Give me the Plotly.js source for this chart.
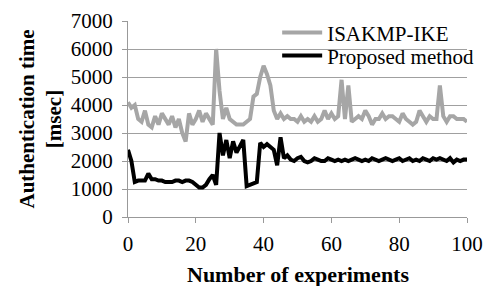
<!DOCTYPE html>
<html>
<head>
<meta charset="utf-8">
<script src="https://cdn.plot.ly/plotly-3.0.1.min.js"></script>
<style>html,body{margin:0;padding:0;background:#fff;}#chart{width:491px;height:286px;}</style>
</head>
<body>
<div id="chart"></div>
<script>
const experiments = Array.from({length: 101}, (_, i) => i);
const isakmpIke = [4100,3900,4000,3500,3400,3800,3300,3200,3600,3300,
  3700,3500,3300,3600,3200,3500,3000,2700,3700,3300,
  3500,3800,3400,3700,3500,3300,6000,4500,3500,3900,
  3500,3400,3300,3300,3300,3400,3500,4300,4400,5000,
  5400,5100,4700,3800,3500,3700,3500,3600,3500,3500,
  3400,3600,3400,3500,3400,3600,3400,3500,3800,3500,
  3700,3500,3600,4900,3500,4700,3400,3500,3600,3500,
  3800,3600,3300,3500,3500,3700,3500,3600,3600,3500,
  3400,3700,3500,3400,3300,3400,3800,3600,3400,3600,
  3500,3500,4700,3600,3400,3600,3600,3500,3500,3500,3400];
const proposed = [2400,2000,1250,1300,1300,1300,1550,1350,1350,1300,
  1300,1250,1250,1250,1300,1300,1250,1300,1300,1250,
  1150,1050,1050,1150,1350,1500,1150,3000,2200,2750,
  2100,2700,2300,2500,2750,1100,1150,1200,1250,2650,
  2500,2600,2500,2400,1850,2850,2100,2200,2050,2000,
  2100,2150,2000,1950,2000,2100,2050,2000,2000,2100,
  2050,2000,2050,2000,2050,2000,2050,2100,2050,2000,
  2050,2000,2100,2050,2000,2050,2100,2050,2000,2050,
  2100,2000,2050,2100,2000,2050,2000,2100,2050,2000,
  2100,2050,2100,2050,2000,2100,1950,2050,2000,2050,2050];
const seriesNames = ['ISAKMP-IKE', 'Proposed method'];
const xTicks = [0, 20, 40, 60, 80, 100];
const yTicks = [0, 1000, 2000, 3000, 4000, 5000, 6000, 7000];
const xTitle = 'Number of experiments';
const yTitle = 'Authentication time<br>[msec]';

const font = 'Liberation Serif, Times New Roman, serif';
const legendFont = {family: font, size: 21, color: '#000'};
const data = [
  {x: experiments, y: isakmpIke, name: seriesNames[0], type: 'scatter', mode: 'lines',
   line: {color: '#a6a6a6', width: 4}, legend: 'legend'},
  {x: experiments, y: proposed, name: seriesNames[1], type: 'scatter', mode: 'lines',
   line: {color: '#000000', width: 4}, legend: 'legend2'}
];
const layout = {
  width: 491, height: 286,
  margin: {l: 128, r: 20, t: 20, b: 69},
  paper_bgcolor: '#fff', plot_bgcolor: '#fff',
  font: {family: font, size: 21, color: '#000'},
  showlegend: true,
  legend: {x: 0.44, y: 0.939, xanchor: 'left', yanchor: 'middle', bgcolor: 'rgba(0,0,0,0)',
    font: legendFont, itemwidth: 40},
  legend2: {x: 0.44, y: 0.822, xanchor: 'left', yanchor: 'middle', bgcolor: 'rgba(0,0,0,0)',
    font: legendFont, itemwidth: 40},
  xaxis: {range: [0, 100], tickvals: xTicks, ticktext: xTicks.map(String), automargin: false,
    showgrid: false, zeroline: false, showline: true, linecolor: '#999', linewidth: 1,
    ticks: 'outside', ticklen: 5, tickcolor: '#999', ticklabelstandoff: 3,
    tickfont: {family: font, size: 21}},
  yaxis: {range: [0, 7000], tickvals: yTicks, ticktext: yTicks.map(String), automargin: false,
    showgrid: true, gridcolor: '#a0a0a0', gridwidth: 1, zeroline: false,
    showline: true, linecolor: '#999', linewidth: 1,
    ticks: 'outside', ticklen: 5, tickcolor: '#999', ticklabelstandoff: 5,
    tickfont: {family: font, size: 21},
    title: {text: '<b>' + yTitle + '</b>', font: {family: font, size: 21}, standoff: 3}},
  annotations: [{text: '<b>' + xTitle + '</b>', xref: 'paper', yref: 'paper', x: 0.5, y: 0,
    xanchor: 'center', yanchor: 'top', yshift: -43, showarrow: false,
    font: {family: font, size: 22, color: '#000'}}]
};
Plotly.newPlot('chart', data, layout, {displayModeBar: false, staticPlot: true});
</script>
</body>
</html>
